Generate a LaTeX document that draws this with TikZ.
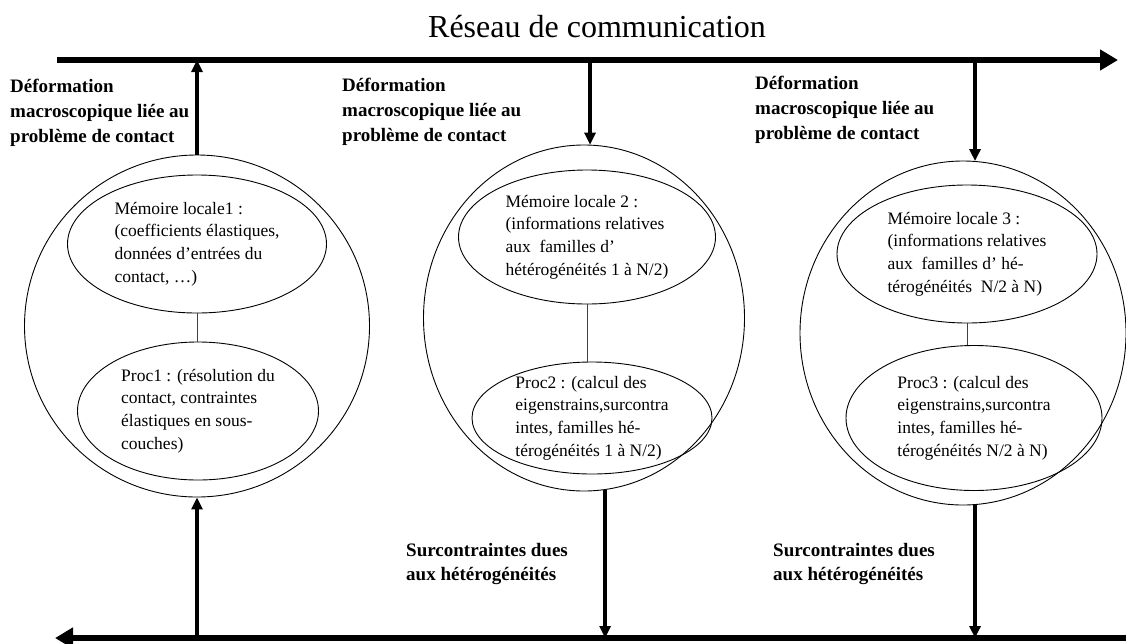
\documentclass[tikz,border=0pt]{standalone}
\usepackage{fontspec}
\setmainfont{Liberation Serif}
\usetikzlibrary{shapes.geometric,arrows.meta}

\begin{document}
\begin{tikzpicture}
% Reseau de communication, coordinates given in pixels of the figure
\def\unitpx{1pt}
\providecommand{\busLineWidth}{6.5pt}
\providecommand{\linkLineWidth}{3.5pt}
\providecommand{\shapeLineWidth}{0.9pt}
\tikzset{
  procCircle/.style={draw, ellipse, line width=\shapeLineWidth, inner sep=0pt},
  memBlob/.style={draw, ellipse, line width=\shapeLineWidth, inner xsep=0pt, inner ysep=-8pt,
    align=left, font=\fontsize{17.5}{22.7}\selectfont},
  noteText/.style={inner sep=0pt, align=left, anchor=west, font=\fontsize{19}{25}\selectfont\bfseries},
  busArrow/.style={line width=\busLineWidth, -{Triangle[length=18pt, width=20pt]}},
  linkArrow/.style={line width=\linkLineWidth, -{Triangle[length=12pt, width=11pt]}},
  innerLink/.style={line width=0.8pt, black!75},
}
\begin{scope}[x=\unitpx, y=-\unitpx]
  \useasboundingbox (0,0) rectangle (1126,643);
  % Title
  \node[font=\fontsize{32}{38}\selectfont, anchor=base] (titre) at (597,37) {Réseau de communication};
  % Bus lines
  \coordinate (busTopL) at (57,60);
  \coordinate (busTopR) at (1118,60);
  \coordinate (busBotR) at (1126,638);
  \coordinate (busBotL) at (55,638);
  \draw[busArrow] (busTopL) -- (busTopR);
  \draw[busArrow] (busBotR) -- (busBotL);
  % Processors (outer circles)
  \node[procCircle, minimum width=345pt, minimum height=342pt] (c1) at (197,326) {};
  \node[procCircle, minimum width=321pt, minimum height=346pt] (c2) at (584,318) {};
  \node[procCircle, minimum width=326pt, minimum height=344pt] (c3) at (963,333) {};
  % Local memories
  \node[memBlob, minimum width=259pt, minimum height=138pt] (m1) at (197,244)
    {Mémoire locale1 :\\(coefficients élastiques,\\données d’entrées du\\contact, …)};
  \node[memBlob, minimum width=257pt, minimum height=134pt] (m2) at (587,237)
    {Mémoire locale 2 :\\(informations relatives\\aux~ familles d’\\hétérogénéités 1 à N/2)};
  \node[memBlob, minimum width=260pt, minimum height=138pt] (m3) at (967,254)
    {Mémoire locale 3 :\\(informations relatives\\aux~ familles d’ hé-\\térogénéités~ N/2 à N)};
  % Computations
  \node[memBlob, minimum width=241pt, minimum height=138pt] (p1) at (198,411)
    {Proc1 : (résolution du\\contact, contraintes\\élastiques en sous-\\couches)};
  \node[memBlob, minimum width=240pt, minimum height=112pt] (p2) at (592,418)
    {Proc2 : (calcul des\\eigenstrains,surcontra\\intes, familles hé-\\térogénéités 1 à N/2)};
  \node[memBlob, minimum width=256pt, minimum height=145pt] (p3) at (974,418)
    {Proc3 : (calcul des\\eigenstrains,surcontra\\intes, familles hé-\\térogénéités N/2 à N)};
  \draw[innerLink] (m1.south) -- (m1.south |- p1.north);
  \draw[innerLink] (m2.south) -- (m2.south |- p2.north);
  \draw[innerLink] (m3.south) -- (m3.south |- p3.north);
  % Exchanges with the network
  \draw[linkArrow] (c1.north) -- (c1.north |- busTopL);
  \draw[linkArrow] (busTopL -| c2.88) -- (c2.88);
  \draw[linkArrow] (busTopL -| c3.86) -- (c3.86);
  \draw[linkArrow] (busBotL -| c1.south) -- (c1.south);
  \draw[linkArrow] (c2.-83) -- (c2.-83 |- busBotL);
  \draw[linkArrow] (c3.-86) -- (c3.-86 |- busBotL);
  % Labels
  \node[noteText] (defo1) at (10,113) {Déformation\\macroscopique liée au\\problème de contact};
  \node[noteText] (defo2) at (342,112) {Déformation\\macroscopique liée au\\problème de contact};
  \node[noteText] (defo3) at (755,110) {Déformation\\macroscopique liée au\\problème de contact};
  \node[noteText, font=\fontsize{19}{24}\selectfont\bfseries] (surc2) at (406,564) {Surcontraintes dues\\aux hétérogénéités};
  \node[noteText, font=\fontsize{19}{24}\selectfont\bfseries] (surc3) at (773,564) {Surcontraintes dues\\aux hétérogénéités};
\end{scope}
\end{tikzpicture}
\end{document}
